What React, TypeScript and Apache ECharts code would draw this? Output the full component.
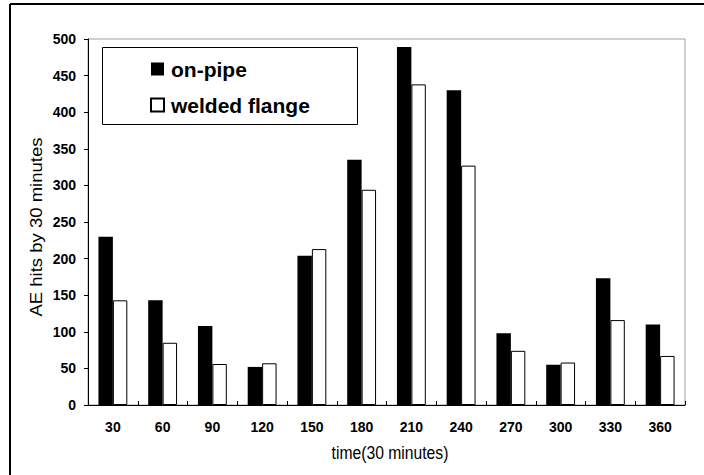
import React, { useEffect, useRef } from "react";
import * as echarts from "echarts";

const categories = ["30", "60", "90", "120", "150", "180", "210", "240", "270", "300", "330", "360"];
const onPipe = [230, 143, 108, 52, 204, 335, 489, 430, 98, 55, 173, 110];
const weldedFlange = [143, 85, 56, 57, 213, 294, 438, 327, 74, 58, 116, 67];
const seriesNames = ["on-pipe", "welded flange"];
const xAxisTitle = "time(30 minutes)";
const yAxisTitle = "AE hits by 30 minutes";

const FONT = "'Liberation Sans', Arial, sans-serif";

export default function App() {
  const ref = useRef<HTMLDivElement>(null);
  useEffect(() => {
    if (!ref.current) return;
    const chart = echarts.init(ref.current, undefined, { renderer: "svg" });
    chart.setOption({
      animation: false,
      backgroundColor: "#ffffff",
      grid: {
        left: 88,
        right: 19,
        top: 39,
        bottom: 70,
        show: true,
        borderColor: "#a0a0a0",
        borderWidth: 1,
        backgroundColor: "transparent",
      },
      legend: {
        orient: "vertical",
        left: 150,
        top: 58,
        padding: 0,
        itemWidth: 13,
        itemHeight: 13,
        itemGap: 14,
        icon: "rect",
        data: seriesNames,
        selectedMode: false,
        textStyle: {
          fontFamily: FONT,
          fontWeight: "bold",
          fontSize: 21,
          lineHeight: 22,
          color: "#000",
          padding: [0, 0, 0, 2],
        },
      },
      xAxis: {
        type: "category",
        data: categories,
        boundaryGap: true,
        axisLine: { show: true, lineStyle: { color: "#000", width: 1 } },
        axisTick: { show: true, inside: true, length: 4, alignWithLabel: false, interval: 0, lineStyle: { color: "#000" } },
        axisLabel: {
          interval: 0,
          margin: 15,
          fontFamily: FONT,
          fontWeight: "bold",
          fontSize: 14,
          color: "#000",
        },
        splitLine: { show: false },
      },
      yAxis: {
        type: "value",
        min: 0,
        max: 500,
        interval: 50,
        axisLine: { show: true, lineStyle: { color: "#000", width: 1 } },
        axisTick: { show: true, inside: false, length: 4, lineStyle: { color: "#000" } },
        axisLabel: {
          margin: 12,
          fontFamily: FONT,
          fontWeight: "bold",
          fontSize: 14,
          color: "#000",
        },
        splitLine: { show: false },
      },
      graphic: [
        {
          type: "line",
          shape: { x1: 10, y1: 4, x2: 704, y2: 4 },
          style: { stroke: "#000", lineWidth: 2 },
          silent: true,
        },
        {
          type: "line",
          shape: { x1: 10, y1: 4, x2: 10, y2: 475 },
          style: { stroke: "#000", lineWidth: 2 },
          silent: true,
        },
        {
          type: "rect",
          shape: { x: 102.5, y: 47.5, width: 255, height: 77 },
          style: { stroke: "#000", lineWidth: 1, fill: "none" },
          silent: true,
        },
        {
          type: "text",
          x: 390,
          y: 453,
          scaleY: 1.18,
          style: {
            text: xAxisTitle,
            fontFamily: FONT,
            fontSize: 15.7,
            fill: "#000",
            textAlign: "center",
            textVerticalAlign: "middle",
          },
          silent: true,
        },
        {
          type: "text",
          x: 36.5,
          y: 227,
          rotation: Math.PI / 2,
          scaleX: 1.18,
          style: {
            text: yAxisTitle,
            fontFamily: FONT,
            fontSize: 15.7,
            fill: "#000",
            textAlign: "center",
            textVerticalAlign: "middle",
          },
          silent: true,
        },
      ],
      series: [
        {
          name: seriesNames[0],
          type: "bar",
          data: onPipe,
          barWidth: "29%",
          barGap: "0%",
          itemStyle: { color: "#000", borderColor: "#000", borderWidth: 0 },
        },
        {
          name: seriesNames[1],
          type: "bar",
          data: weldedFlange,
          barWidth: "29%",
          barGap: "0%",
          itemStyle: { color: "#fff", borderColor: "#000", borderWidth: 1 },
        },
      ],
    });
    return () => chart.dispose();
  }, []);
  return (
    <div
      ref={ref}
      style={{ position: "absolute", left: 0, top: 0, width: 704, height: 475, background: "#fff" }}
    />
  );
}
